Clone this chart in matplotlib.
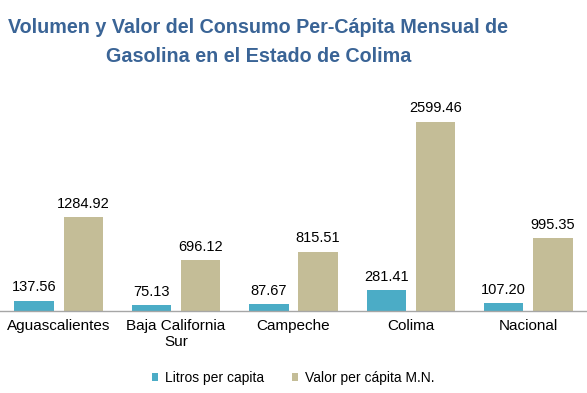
import numpy as np
import matplotlib
matplotlib.use('Agg')
import matplotlib.pyplot as plt

plt.rcParams['font.family'] = ['Liberation Sans', 'DejaVu Sans']

categorias = ['Aguascalientes', 'Baja California\nSur', 'Campeche', 'Colima', 'Nacional']
litros = [137.56, 75.13, 87.67, 281.41, 107.20]
valor = [1284.92, 696.12, 815.51, 2599.46, 995.35]
series = ['Litros per capita', 'Valor per cápita M.N.']

azul = '#4BACC6'
beige = '#C4BD97'

fig = plt.figure(figsize=(5.87, 3.93), dpi=100)
ax = fig.add_axes([0.0, 0.209, 1.0, 0.555])

x = np.arange(len(categorias))
ancho = 0.335
sep = 0.21
b1 = ax.bar(x - sep, litros, ancho, color=azul, label=series[0])
b2 = ax.bar(x + sep, valor, ancho, color=beige, label=series[1])

for barras, vals in [(b1, litros), (b2, valor)]:
    for b, v in zip(barras, vals):
        ax.text(b.get_x() + b.get_width() / 2, v + 90, '%.2f' % v,
                ha='center', va='bottom', fontsize=10.5, color='black')

ax.set_xlim(-0.5, len(categorias) - 0.5)
ax.set_ylim(0, 3000)
ax.set_xticks(x)
ax.set_xticklabels(categorias, fontsize=11)
ax.tick_params(axis='x', length=0, pad=6)
ax.set_yticks([])
for s in ['top', 'right', 'left']:
    ax.spines[s].set_visible(False)
ax.spines['bottom'].set_color('#A6A6A6')
ax.spines['bottom'].set_linewidth(1.0)

fig.legend(handles=[b1, b2], labels=series, loc='center', bbox_to_anchor=(0.5, 0.038),
           ncol=2, frameon=False, fontsize=10, handlelength=0.45, handleheight=0.45,
           handletextpad=0.5, columnspacing=2.0)

color_titulo = '#3A6496'
fig.text(0.44, 0.915, 'Volumen y Valor del Consumo Per-Cápita Mensual de',
         ha='center', va='baseline', fontsize=14.2, fontweight='bold', color=color_titulo)
fig.text(0.44, 0.843, 'Gasolina en el Estado de Colima',
         ha='center', va='baseline', fontsize=14.2, fontweight='bold', color=color_titulo)

fig.savefig('out.png', dpi=100)
